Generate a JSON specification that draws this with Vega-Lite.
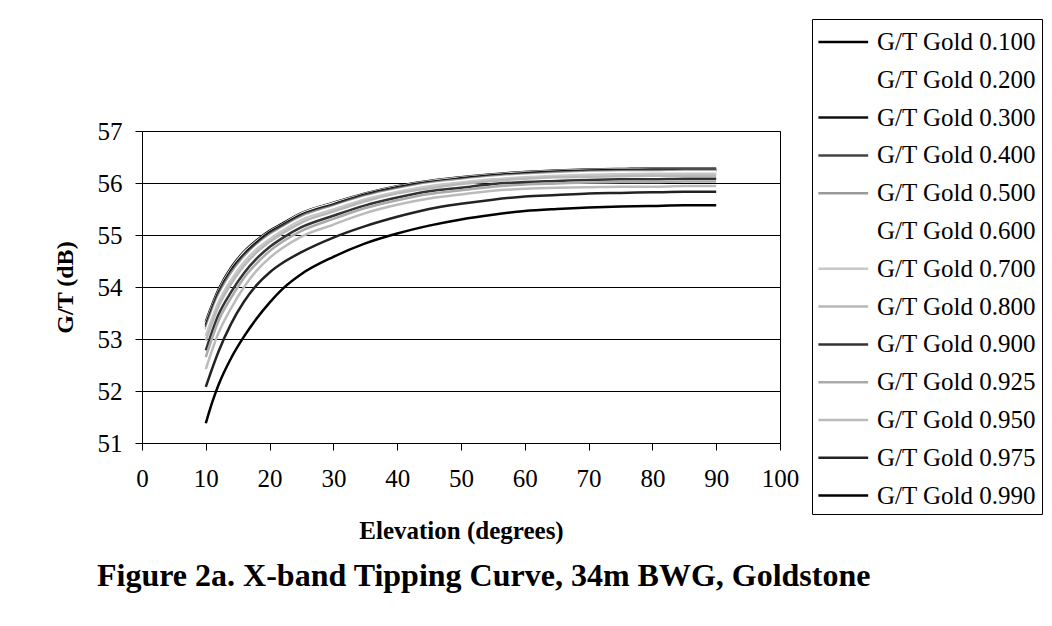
{
"$schema": "https://vega.github.io/schema/vega-lite/v6.json",
"width": 638, "height": 312,
"autosize": {"type": "none"},
"padding": {"left": 142, "top": 131, "right": 272, "bottom": 183},
"background": "white",
"config": {"font": "Liberation Serif", "view": {"stroke": "black", "strokeWidth": 1}},
"title": {"text": "Figure 2a. X-band Tipping Curve, 34m BWG, Goldstone", "orient": "bottom", "anchor": "start", "frame": "group", "dx": -45, "offset": 18, "font": "Liberation Serif", "fontSize": 32, "fontWeight": "bold", "color": "black"},
"data": {"values": [
{"s":"G/T Gold 0.100","e":10,"g":53.33},{"s":"G/T Gold 0.100","e":12,"g":53.95},{"s":"G/T Gold 0.100","e":14,"g":54.38},{"s":"G/T Gold 0.100","e":16,"g":54.68},{"s":"G/T Gold 0.100","e":18,"g":54.90},{"s":"G/T Gold 0.100","e":20,"g":55.08},{"s":"G/T Gold 0.100","e":22,"g":55.22},{"s":"G/T Gold 0.100","e":25,"g":55.42},{"s":"G/T Gold 0.100","e":30,"g":55.62},{"s":"G/T Gold 0.100","e":35,"g":55.80},{"s":"G/T Gold 0.100","e":40,"g":55.94},{"s":"G/T Gold 0.100","e":45,"g":56.04},{"s":"G/T Gold 0.100","e":50,"g":56.11},{"s":"G/T Gold 0.100","e":55,"g":56.17},{"s":"G/T Gold 0.100","e":60,"g":56.21},{"s":"G/T Gold 0.100","e":65,"g":56.24},{"s":"G/T Gold 0.100","e":70,"g":56.26},{"s":"G/T Gold 0.100","e":75,"g":56.27},{"s":"G/T Gold 0.100","e":80,"g":56.28},{"s":"G/T Gold 0.100","e":85,"g":56.28},{"s":"G/T Gold 0.100","e":90,"g":56.28},
{"s":"G/T Gold 0.200","e":10,"g":53.30},{"s":"G/T Gold 0.200","e":12,"g":53.92},{"s":"G/T Gold 0.200","e":14,"g":54.35},{"s":"G/T Gold 0.200","e":16,"g":54.66},{"s":"G/T Gold 0.200","e":18,"g":54.88},{"s":"G/T Gold 0.200","e":20,"g":55.06},{"s":"G/T Gold 0.200","e":22,"g":55.20},{"s":"G/T Gold 0.200","e":25,"g":55.41},{"s":"G/T Gold 0.200","e":30,"g":55.61},{"s":"G/T Gold 0.200","e":35,"g":55.79},{"s":"G/T Gold 0.200","e":40,"g":55.93},{"s":"G/T Gold 0.200","e":45,"g":56.03},{"s":"G/T Gold 0.200","e":50,"g":56.10},{"s":"G/T Gold 0.200","e":55,"g":56.16},{"s":"G/T Gold 0.200","e":60,"g":56.20},{"s":"G/T Gold 0.200","e":65,"g":56.23},{"s":"G/T Gold 0.200","e":70,"g":56.25},{"s":"G/T Gold 0.200","e":75,"g":56.26},{"s":"G/T Gold 0.200","e":80,"g":56.27},{"s":"G/T Gold 0.200","e":85,"g":56.27},{"s":"G/T Gold 0.200","e":90,"g":56.27},
{"s":"G/T Gold 0.300","e":10,"g":53.27},{"s":"G/T Gold 0.300","e":12,"g":53.90},{"s":"G/T Gold 0.300","e":14,"g":54.33},{"s":"G/T Gold 0.300","e":16,"g":54.63},{"s":"G/T Gold 0.300","e":18,"g":54.86},{"s":"G/T Gold 0.300","e":20,"g":55.05},{"s":"G/T Gold 0.300","e":22,"g":55.19},{"s":"G/T Gold 0.300","e":25,"g":55.39},{"s":"G/T Gold 0.300","e":30,"g":55.59},{"s":"G/T Gold 0.300","e":35,"g":55.78},{"s":"G/T Gold 0.300","e":40,"g":55.92},{"s":"G/T Gold 0.300","e":45,"g":56.02},{"s":"G/T Gold 0.300","e":50,"g":56.09},{"s":"G/T Gold 0.300","e":55,"g":56.15},{"s":"G/T Gold 0.300","e":60,"g":56.19},{"s":"G/T Gold 0.300","e":65,"g":56.22},{"s":"G/T Gold 0.300","e":70,"g":56.24},{"s":"G/T Gold 0.300","e":75,"g":56.25},{"s":"G/T Gold 0.300","e":80,"g":56.26},{"s":"G/T Gold 0.300","e":85,"g":56.26},{"s":"G/T Gold 0.300","e":90,"g":56.26},
{"s":"G/T Gold 0.400","e":10,"g":53.23},{"s":"G/T Gold 0.400","e":12,"g":53.86},{"s":"G/T Gold 0.400","e":14,"g":54.29},{"s":"G/T Gold 0.400","e":16,"g":54.60},{"s":"G/T Gold 0.400","e":18,"g":54.83},{"s":"G/T Gold 0.400","e":20,"g":55.02},{"s":"G/T Gold 0.400","e":22,"g":55.17},{"s":"G/T Gold 0.400","e":25,"g":55.37},{"s":"G/T Gold 0.400","e":30,"g":55.57},{"s":"G/T Gold 0.400","e":35,"g":55.76},{"s":"G/T Gold 0.400","e":40,"g":55.90},{"s":"G/T Gold 0.400","e":45,"g":56.00},{"s":"G/T Gold 0.400","e":50,"g":56.07},{"s":"G/T Gold 0.400","e":55,"g":56.13},{"s":"G/T Gold 0.400","e":60,"g":56.17},{"s":"G/T Gold 0.400","e":65,"g":56.20},{"s":"G/T Gold 0.400","e":70,"g":56.22},{"s":"G/T Gold 0.400","e":75,"g":56.23},{"s":"G/T Gold 0.400","e":80,"g":56.24},{"s":"G/T Gold 0.400","e":85,"g":56.24},{"s":"G/T Gold 0.400","e":90,"g":56.24},
{"s":"G/T Gold 0.500","e":10,"g":53.18},{"s":"G/T Gold 0.500","e":12,"g":53.82},{"s":"G/T Gold 0.500","e":14,"g":54.26},{"s":"G/T Gold 0.500","e":16,"g":54.57},{"s":"G/T Gold 0.500","e":18,"g":54.80},{"s":"G/T Gold 0.500","e":20,"g":55.00},{"s":"G/T Gold 0.500","e":22,"g":55.14},{"s":"G/T Gold 0.500","e":25,"g":55.35},{"s":"G/T Gold 0.500","e":30,"g":55.55},{"s":"G/T Gold 0.500","e":35,"g":55.74},{"s":"G/T Gold 0.500","e":40,"g":55.88},{"s":"G/T Gold 0.500","e":45,"g":55.99},{"s":"G/T Gold 0.500","e":50,"g":56.06},{"s":"G/T Gold 0.500","e":55,"g":56.12},{"s":"G/T Gold 0.500","e":60,"g":56.16},{"s":"G/T Gold 0.500","e":65,"g":56.19},{"s":"G/T Gold 0.500","e":70,"g":56.21},{"s":"G/T Gold 0.500","e":75,"g":56.22},{"s":"G/T Gold 0.500","e":80,"g":56.22},{"s":"G/T Gold 0.500","e":85,"g":56.23},{"s":"G/T Gold 0.500","e":90,"g":56.23},
{"s":"G/T Gold 0.600","e":10,"g":53.13},{"s":"G/T Gold 0.600","e":12,"g":53.78},{"s":"G/T Gold 0.600","e":14,"g":54.21},{"s":"G/T Gold 0.600","e":16,"g":54.53},{"s":"G/T Gold 0.600","e":18,"g":54.78},{"s":"G/T Gold 0.600","e":20,"g":54.97},{"s":"G/T Gold 0.600","e":22,"g":55.12},{"s":"G/T Gold 0.600","e":25,"g":55.32},{"s":"G/T Gold 0.600","e":30,"g":55.53},{"s":"G/T Gold 0.600","e":35,"g":55.72},{"s":"G/T Gold 0.600","e":40,"g":55.86},{"s":"G/T Gold 0.600","e":45,"g":55.97},{"s":"G/T Gold 0.600","e":50,"g":56.04},{"s":"G/T Gold 0.600","e":55,"g":56.10},{"s":"G/T Gold 0.600","e":60,"g":56.14},{"s":"G/T Gold 0.600","e":65,"g":56.17},{"s":"G/T Gold 0.600","e":70,"g":56.19},{"s":"G/T Gold 0.600","e":75,"g":56.20},{"s":"G/T Gold 0.600","e":80,"g":56.20},{"s":"G/T Gold 0.600","e":85,"g":56.21},{"s":"G/T Gold 0.600","e":90,"g":56.21},
{"s":"G/T Gold 0.700","e":10,"g":53.06},{"s":"G/T Gold 0.700","e":12,"g":53.71},{"s":"G/T Gold 0.700","e":14,"g":54.14},{"s":"G/T Gold 0.700","e":16,"g":54.48},{"s":"G/T Gold 0.700","e":18,"g":54.73},{"s":"G/T Gold 0.700","e":20,"g":54.92},{"s":"G/T Gold 0.700","e":22,"g":55.08},{"s":"G/T Gold 0.700","e":25,"g":55.29},{"s":"G/T Gold 0.700","e":30,"g":55.49},{"s":"G/T Gold 0.700","e":35,"g":55.69},{"s":"G/T Gold 0.700","e":40,"g":55.83},{"s":"G/T Gold 0.700","e":45,"g":55.94},{"s":"G/T Gold 0.700","e":50,"g":56.01},{"s":"G/T Gold 0.700","e":55,"g":56.07},{"s":"G/T Gold 0.700","e":60,"g":56.11},{"s":"G/T Gold 0.700","e":65,"g":56.14},{"s":"G/T Gold 0.700","e":70,"g":56.16},{"s":"G/T Gold 0.700","e":75,"g":56.17},{"s":"G/T Gold 0.700","e":80,"g":56.18},{"s":"G/T Gold 0.700","e":85,"g":56.18},{"s":"G/T Gold 0.700","e":90,"g":56.18},
{"s":"G/T Gold 0.800","e":10,"g":52.97},{"s":"G/T Gold 0.800","e":12,"g":53.63},{"s":"G/T Gold 0.800","e":14,"g":54.07},{"s":"G/T Gold 0.800","e":16,"g":54.41},{"s":"G/T Gold 0.800","e":18,"g":54.67},{"s":"G/T Gold 0.800","e":20,"g":54.87},{"s":"G/T Gold 0.800","e":22,"g":55.03},{"s":"G/T Gold 0.800","e":25,"g":55.24},{"s":"G/T Gold 0.800","e":30,"g":55.45},{"s":"G/T Gold 0.800","e":35,"g":55.65},{"s":"G/T Gold 0.800","e":40,"g":55.80},{"s":"G/T Gold 0.800","e":45,"g":55.90},{"s":"G/T Gold 0.800","e":50,"g":55.98},{"s":"G/T Gold 0.800","e":55,"g":56.04},{"s":"G/T Gold 0.800","e":60,"g":56.08},{"s":"G/T Gold 0.800","e":65,"g":56.11},{"s":"G/T Gold 0.800","e":70,"g":56.12},{"s":"G/T Gold 0.800","e":75,"g":56.13},{"s":"G/T Gold 0.800","e":80,"g":56.14},{"s":"G/T Gold 0.800","e":85,"g":56.14},{"s":"G/T Gold 0.800","e":90,"g":56.14},
{"s":"G/T Gold 0.900","e":10,"g":52.78},{"s":"G/T Gold 0.900","e":12,"g":53.47},{"s":"G/T Gold 0.900","e":14,"g":53.91},{"s":"G/T Gold 0.900","e":16,"g":54.27},{"s":"G/T Gold 0.900","e":18,"g":54.55},{"s":"G/T Gold 0.900","e":20,"g":54.77},{"s":"G/T Gold 0.900","e":22,"g":54.94},{"s":"G/T Gold 0.900","e":25,"g":55.15},{"s":"G/T Gold 0.900","e":30,"g":55.37},{"s":"G/T Gold 0.900","e":35,"g":55.57},{"s":"G/T Gold 0.900","e":40,"g":55.72},{"s":"G/T Gold 0.900","e":45,"g":55.84},{"s":"G/T Gold 0.900","e":50,"g":55.91},{"s":"G/T Gold 0.900","e":55,"g":55.98},{"s":"G/T Gold 0.900","e":60,"g":56.02},{"s":"G/T Gold 0.900","e":65,"g":56.04},{"s":"G/T Gold 0.900","e":70,"g":56.06},{"s":"G/T Gold 0.900","e":75,"g":56.07},{"s":"G/T Gold 0.900","e":80,"g":56.07},{"s":"G/T Gold 0.900","e":85,"g":56.08},{"s":"G/T Gold 0.900","e":90,"g":56.08},
{"s":"G/T Gold 0.925","e":10,"g":52.65},{"s":"G/T Gold 0.925","e":12,"g":53.35},{"s":"G/T Gold 0.925","e":14,"g":53.80},{"s":"G/T Gold 0.925","e":16,"g":54.18},{"s":"G/T Gold 0.925","e":18,"g":54.46},{"s":"G/T Gold 0.925","e":20,"g":54.69},{"s":"G/T Gold 0.925","e":22,"g":54.87},{"s":"G/T Gold 0.925","e":25,"g":55.08},{"s":"G/T Gold 0.925","e":30,"g":55.31},{"s":"G/T Gold 0.925","e":35,"g":55.52},{"s":"G/T Gold 0.925","e":40,"g":55.67},{"s":"G/T Gold 0.925","e":45,"g":55.79},{"s":"G/T Gold 0.925","e":50,"g":55.86},{"s":"G/T Gold 0.925","e":55,"g":55.93},{"s":"G/T Gold 0.925","e":60,"g":55.97},{"s":"G/T Gold 0.925","e":65,"g":55.99},{"s":"G/T Gold 0.925","e":70,"g":56.01},{"s":"G/T Gold 0.925","e":75,"g":56.02},{"s":"G/T Gold 0.925","e":80,"g":56.02},{"s":"G/T Gold 0.925","e":85,"g":56.03},{"s":"G/T Gold 0.925","e":90,"g":56.03},
{"s":"G/T Gold 0.950","e":10,"g":52.42},{"s":"G/T Gold 0.950","e":12,"g":53.12},{"s":"G/T Gold 0.950","e":14,"g":53.60},{"s":"G/T Gold 0.950","e":16,"g":54.00},{"s":"G/T Gold 0.950","e":18,"g":54.32},{"s":"G/T Gold 0.950","e":20,"g":54.56},{"s":"G/T Gold 0.950","e":22,"g":54.75},{"s":"G/T Gold 0.950","e":25,"g":54.97},{"s":"G/T Gold 0.950","e":30,"g":55.20},{"s":"G/T Gold 0.950","e":35,"g":55.42},{"s":"G/T Gold 0.950","e":40,"g":55.58},{"s":"G/T Gold 0.950","e":45,"g":55.70},{"s":"G/T Gold 0.950","e":50,"g":55.78},{"s":"G/T Gold 0.950","e":55,"g":55.85},{"s":"G/T Gold 0.950","e":60,"g":55.89},{"s":"G/T Gold 0.950","e":65,"g":55.91},{"s":"G/T Gold 0.950","e":70,"g":55.92},{"s":"G/T Gold 0.950","e":75,"g":55.93},{"s":"G/T Gold 0.950","e":80,"g":55.93},{"s":"G/T Gold 0.950","e":85,"g":55.94},{"s":"G/T Gold 0.950","e":90,"g":55.94},
{"s":"G/T Gold 0.975","e":10,"g":52.08},{"s":"G/T Gold 0.975","e":12,"g":52.76},{"s":"G/T Gold 0.975","e":14,"g":53.30},{"s":"G/T Gold 0.975","e":16,"g":53.72},{"s":"G/T Gold 0.975","e":18,"g":54.04},{"s":"G/T Gold 0.975","e":20,"g":54.28},{"s":"G/T Gold 0.975","e":22,"g":54.46},{"s":"G/T Gold 0.975","e":25,"g":54.67},{"s":"G/T Gold 0.975","e":30,"g":54.95},{"s":"G/T Gold 0.975","e":35,"g":55.17},{"s":"G/T Gold 0.975","e":40,"g":55.35},{"s":"G/T Gold 0.975","e":45,"g":55.50},{"s":"G/T Gold 0.975","e":50,"g":55.60},{"s":"G/T Gold 0.975","e":55,"g":55.68},{"s":"G/T Gold 0.975","e":60,"g":55.74},{"s":"G/T Gold 0.975","e":65,"g":55.77},{"s":"G/T Gold 0.975","e":70,"g":55.80},{"s":"G/T Gold 0.975","e":75,"g":55.81},{"s":"G/T Gold 0.975","e":80,"g":55.82},{"s":"G/T Gold 0.975","e":85,"g":55.83},{"s":"G/T Gold 0.975","e":90,"g":55.83},
{"s":"G/T Gold 0.990","e":10,"g":51.38},{"s":"G/T Gold 0.990","e":11,"g":51.78},{"s":"G/T Gold 0.990","e":12,"g":52.12},{"s":"G/T Gold 0.990","e":14,"g":52.64},{"s":"G/T Gold 0.990","e":16,"g":53.05},{"s":"G/T Gold 0.990","e":18,"g":53.40},{"s":"G/T Gold 0.990","e":20,"g":53.70},{"s":"G/T Gold 0.990","e":22,"g":53.96},{"s":"G/T Gold 0.990","e":25,"g":54.25},{"s":"G/T Gold 0.990","e":30,"g":54.58},{"s":"G/T Gold 0.990","e":35,"g":54.84},{"s":"G/T Gold 0.990","e":40,"g":55.03},{"s":"G/T Gold 0.990","e":45,"g":55.18},{"s":"G/T Gold 0.990","e":50,"g":55.30},{"s":"G/T Gold 0.990","e":55,"g":55.39},{"s":"G/T Gold 0.990","e":60,"g":55.46},{"s":"G/T Gold 0.990","e":65,"g":55.50},{"s":"G/T Gold 0.990","e":70,"g":55.53},{"s":"G/T Gold 0.990","e":75,"g":55.55},{"s":"G/T Gold 0.990","e":80,"g":55.56},{"s":"G/T Gold 0.990","e":85,"g":55.57},{"s":"G/T Gold 0.990","e":90,"g":55.57}
]},
"mark": {"type": "line", "strokeWidth": 2.5, "interpolate": "monotone"},
"encoding": {
"x": {"field": "e", "type": "quantitative", "scale": {"domain": [0, 100], "nice": false},
 "axis": {"title": "Elevation (degrees)", "values": [0,10,20,30,40,50,60,70,80,90,100], "grid": false, "domainColor": "black", "tickColor": "black", "tickSize": 7, "labelFont": "Liberation Serif", "labelFontSize": 25, "labelColor": "black", "labelPadding": 16, "labelFlush": false, "titleFont": "Liberation Serif", "titleFontSize": 25, "titleFontWeight": "bold", "titleColor": "black", "titlePadding": 27}},
"y": {"field": "g", "type": "quantitative", "scale": {"domain": [51, 57], "nice": false, "zero": false},
 "axis": {"title": "G/T (dB)", "values": [51,52,53,54,55,56,57], "grid": true, "gridColor": "black", "gridOpacity": 1, "gridWidth": 1, "domainColor": "black", "tickColor": "black", "tickSize": 7, "labelFont": "Liberation Serif", "labelFontSize": 25, "labelColor": "black", "labelPadding": 13, "titleFont": "Liberation Serif", "titleFontSize": 24, "titleFontWeight": "bold", "titleColor": "black", "titlePadding": 20}},
"color": {"field": "s", "type": "nominal",
 "scale": {"domain": ["G/T Gold 0.100","G/T Gold 0.200","G/T Gold 0.300","G/T Gold 0.400","G/T Gold 0.500","G/T Gold 0.600","G/T Gold 0.700","G/T Gold 0.800","G/T Gold 0.900","G/T Gold 0.925","G/T Gold 0.950","G/T Gold 0.975","G/T Gold 0.990"],
  "range": ["#000000","#ffffff","#111111","#444444","#999999","#ffffff","#c8c8c8","#b8b8b8","#333333","#aaaaaa","#bbbbbb","#222222","#000000"]},
 "legend": {"title": null, "orient": "none", "legendX": 670, "legendY": -112, "symbolType": "M-1,0H2", "symbolSize": 1100, "symbolStrokeWidth": 2.5, "labelFont": "Liberation Serif", "labelFontSize": 25, "labelColor": "black", "labelOffset": 24, "labelLimit": 400, "rowPadding": 6.8, "padding": 5, "strokeColor": "black"}}
}
}
